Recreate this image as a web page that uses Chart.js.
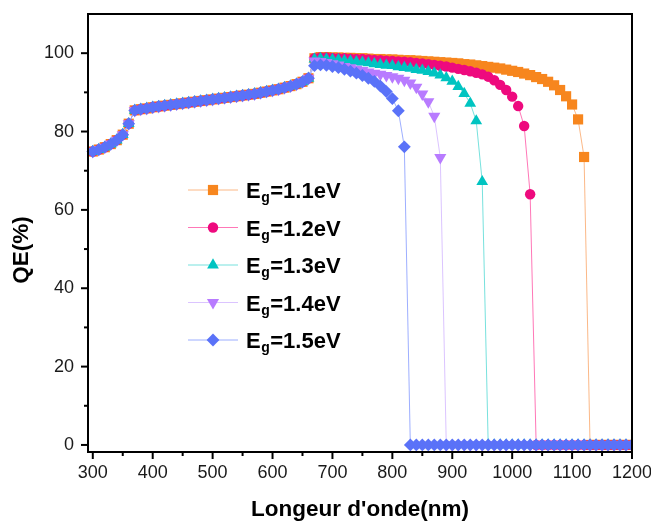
<!DOCTYPE html>
<html>
<head>
<meta charset="utf-8">
<script src="https://cdn.jsdelivr.net/npm/chart.js@4/dist/chart.umd.min.js"></script>
<style>
  html, body { margin: 0; padding: 0; background: #ffffff; }
  #wrap { width: 651px; height: 523px; position: relative; }
</style>
</head>
<body>
<div id="wrap"><canvas id="qe"></canvas></div>
<script>
// Wavelength grid (nm)
const wavelengths = [
  300, 310, 320, 330, 340, 350, 360, 370, 380, 390,
  400, 410, 420, 430, 440, 450, 460, 470, 480, 490,
  500, 510, 520, 530, 540, 550, 560, 570, 580, 590,
  600, 610, 620, 630, 640, 650, 660, 670, 680, 690,
  700, 710, 720, 730, 740, 750, 760, 770, 780, 790,
  800, 810, 820, 830, 840, 850, 860, 870, 880, 890,
  900, 910, 920, 930, 940, 950, 960, 970, 980, 990,
  1000, 1010, 1020, 1030, 1040, 1050, 1060, 1070, 1080, 1090,
  1100, 1110, 1120, 1130, 1140, 1150, 1160, 1170, 1180, 1190,
  1200
];

// QE (%) shared by every band gap from 300 to 660 nm
const sharedQE = [
  74.9, 75.4, 76.0, 76.8, 77.8, 79.2, 82.0,
  85.4, 85.7, 85.9, 86.2, 86.4, 86.6, 86.8, 87.0, 87.2, 87.4,
  87.6, 87.8, 88.0, 88.2, 88.4, 88.6, 88.8, 89.0, 89.2, 89.4,
  89.6, 89.9, 90.2, 90.5, 90.8, 91.2, 91.6, 92.1, 92.7, 93.6
];

// QE (%) from 670 to 1200 nm, one list per band gap
const qeEg11 = [
  98.7, 99.0, 99.0, 98.9, 98.9, 98.8, 98.8, 98.7, 98.7, 98.6,
  98.5, 98.5, 98.4, 98.4, 98.3, 98.2, 98.2, 98.1, 98.0, 97.9,
  97.8, 97.7, 97.6, 97.5, 97.4, 97.2, 97.1, 96.9, 96.7, 96.5,
  96.3, 96.1, 95.8, 95.5, 95.2, 94.8, 94.4, 93.9, 93.4, 92.7,
  91.8, 90.6, 89.0, 86.9, 83.1, 73.5,
  0, 0, 0, 0, 0, 0, 0, 0
];
const qeEg12 = [
  98.7, 98.9, 98.9, 98.8, 98.7, 98.7, 98.6, 98.5, 98.5, 98.4,
  98.3, 98.2, 98.1, 98.0, 97.9, 97.8, 97.7, 97.5, 97.4, 97.2,
  97.0, 96.8, 96.6, 96.3, 96.0, 95.7, 95.4, 95.0, 94.6, 94.0,
  93.1, 91.9, 90.6, 88.9, 86.5, 81.4, 64.0,
  0, 0, 0, 0, 0, 0, 0, 0, 0, 0,
  0, 0, 0, 0, 0, 0, 0
];
const qeEg13 = [
  98.5, 98.6, 98.5, 98.4, 98.3, 98.1, 98.0, 97.8, 97.7, 97.5,
  97.3, 97.1, 96.9, 96.8, 96.5, 96.3, 96.1, 95.8, 95.6, 95.3,
  94.9, 94.4, 93.7, 92.8, 91.5, 89.7, 87.2, 82.7, 67.2,
  0, 0, 0, 0, 0, 0, 0, 0, 0, 0,
  0, 0, 0, 0, 0, 0, 0, 0, 0, 0,
  0, 0, 0, 0, 0
];
const qeEg14 = [
  98.0, 97.9, 97.6, 97.3, 97.0, 96.6, 96.3, 95.9, 95.6, 95.2,
  94.9, 94.6, 94.3, 94.0, 93.6, 93.1, 92.4, 91.3, 89.6, 87.6,
  83.9, 73.4,
  0, 0, 0, 0, 0, 0, 0, 0, 0, 0,
  0, 0, 0, 0, 0, 0, 0, 0, 0, 0,
  0, 0, 0, 0, 0, 0, 0, 0, 0, 0,
  0, 0
];
const qeEg15 = [
  96.8, 97.0, 96.9, 96.6, 96.3, 95.9, 95.4, 94.9, 94.3, 93.6,
  92.8, 91.6, 90.2, 88.4, 85.3, 76.1,
  0, 0, 0, 0, 0, 0, 0, 0, 0, 0,
  0, 0, 0, 0, 0, 0, 0, 0, 0, 0,
  0, 0, 0, 0, 0, 0, 0, 0, 0, 0,
  0, 0, 0, 0, 0, 0, 0, 0
];

const bandGaps = ['1.1', '1.2', '1.3', '1.4', '1.5'];
const seriesTails = [qeEg11, qeEg12, qeEg13, qeEg14, qeEg15];

// Axis ticks
const xMajorTicks = [300, 400, 500, 600, 700, 800, 900, 1000, 1100, 1200];
const xMinorTicks = [350, 450, 550, 650, 750, 850, 950, 1050, 1150];
const yMajorTicks = [0, 20, 40, 60, 80, 100];
const yMinorTicks = [10, 30, 50, 70, 90];

const FONT = '"Liberation Sans", Arial, Helvetica, sans-serif';

const seriesStyle = [
  { mark: '#F7861E', line: 'rgba(250,160,95,0.75)',  pointStyle: 'rect',     radius: 7.2, rotation: 0 },
  { mark: '#EE0A7E', line: 'rgba(255,95,170,0.85)',  pointStyle: 'circle',   radius: 5.2, rotation: 0 },
  { mark: '#00C4C1', line: 'rgba(95,220,215,0.85)',  pointStyle: 'triangle', radius: 6.8, rotation: 0 },
  { mark: '#B87BFF', line: 'rgba(215,190,255,0.9)',  pointStyle: 'triangle', radius: 7.0, rotation: 180 },
  { mark: '#5A72F8', line: 'rgba(140,160,255,0.85)', pointStyle: 'rectRot',  radius: 6.4, rotation: 0 }
];

const datasets = seriesTails.map((tail, i) => {
  const qe = sharedQE.concat(tail);
  const s = seriesStyle[i];
  return {
    label: 'Eg=' + bandGaps[i] + 'eV',
    data: wavelengths.map((w, k) => ({ x: w, y: qe[k] })),
    borderColor: s.line,
    borderWidth: 1,
    backgroundColor: s.mark,
    pointBackgroundColor: s.mark,
    pointBorderColor: s.mark,
    pointBorderWidth: 0,
    pointRadius: s.radius,
    pointHoverRadius: s.radius,
    pointStyle: s.pointStyle,
    pointRotation: s.rotation,
    tension: 0,
    order: seriesStyle.length - i,
    clip: { left: 6, top: 0, right: 0, bottom: 8 }
  };
});

// Frame, outward tick marks, y title and the subscripted legend
const framePlugin = {
  id: 'frameTicks',
  afterDatasetsDraw(chart) {
    const { ctx, chartArea: a, scales } = chart;
    const xs = scales.x, ys = scales.y;
    ctx.save();
    ctx.strokeStyle = '#000';
    ctx.lineWidth = 2;
    ctx.lineCap = 'square';
    ctx.strokeRect(a.left, a.top, a.right - a.left, a.bottom - a.top);
    ctx.lineCap = 'butt';
    const tick = (x1, y1, x2, y2) => { ctx.beginPath(); ctx.moveTo(x1, y1); ctx.lineTo(x2, y2); ctx.stroke(); };
    xMajorTicks.forEach(v => { const p = xs.getPixelForValue(v); tick(p, a.bottom, p, a.bottom + 7); });
    xMinorTicks.forEach(v => { const p = xs.getPixelForValue(v); tick(p, a.bottom, p, a.bottom + 4); });
    yMajorTicks.forEach(v => { const p = ys.getPixelForValue(v); tick(a.left, p, a.left - 7, p); });
    yMinorTicks.forEach(v => { const p = ys.getPixelForValue(v); tick(a.left, p, a.left - 4, p); });
    ctx.restore();
  },
  afterDraw(chart) {
    const ctx = chart.ctx;
    ctx.save();
    // y axis title
    ctx.translate(22, 250);
    ctx.rotate(-Math.PI / 2);
    ctx.fillStyle = '#000';
    ctx.textAlign = 'center';
    ctx.textBaseline = 'middle';
    ctx.font = 'bold 22.5px ' + FONT;
    ctx.fillText('QE(%)', 0, 0);
    ctx.restore();

    const x0 = 188, x1 = 238, xm = 213, xt = 246, y0 = 190, dy = 37.5;
    ctx.save();
    chart.data.datasets.forEach((ds, i) => {
      const s = seriesStyle[i];
      const y = y0 + i * dy;
      ctx.strokeStyle = s.line;
      ctx.lineWidth = 1;
      ctx.beginPath(); ctx.moveTo(x0, y); ctx.lineTo(x1, y); ctx.stroke();
      ctx.fillStyle = s.mark;
      if (Chart.helpers && Chart.helpers.drawPoint) {
        Chart.helpers.drawPoint(ctx, { pointStyle: s.pointStyle, radius: s.radius, rotation: s.rotation, borderWidth: 0 }, xm, y);
      }
      ctx.fillStyle = '#000';
      ctx.textBaseline = 'alphabetic';
      ctx.textAlign = 'left';
      ctx.font = 'bold 22px ' + FONT;
      ctx.fillText('E', xt, y + 8);
      let x = xt + ctx.measureText('E').width + 0.5;
      ctx.font = 'bold 14px ' + FONT;
      ctx.fillText('g', x, y + 12);
      x += ctx.measureText('g').width + 0.5;
      ctx.font = 'bold 22px ' + FONT;
      ctx.fillText('=' + bandGaps[i] + 'eV', x, y + 8);
    });
    ctx.restore();
  }
};

new Chart(document.getElementById('qe'), {
  type: 'line',
  data: { datasets },
  options: {
    responsive: true,
    maintainAspectRatio: false,
    animation: false,
    devicePixelRatio: 1,
    layout: { padding: { top: 14, right: 19, left: 0, bottom: 0 } },
    plugins: { legend: { display: false }, tooltip: { enabled: false } },
    scales: {
      x: {
        type: 'linear',
        position: 'bottom',
        min: 292,
        max: 1200,
        grid: { display: false, drawTicks: false },
        border: { display: false },
        afterBuildTicks: s => { s.ticks = xMajorTicks.map(v => ({ value: v })); },
        afterFit: s => { s.height = 71; s.paddingLeft = 0; s.paddingRight = 0; },
        ticks: {
          autoSkip: false, maxRotation: 0, padding: 10, color: '#1a1a1a',
          font: { family: FONT, size: 18 },
          callback: v => String(v)
        },
        title: {
          display: true, text: "Longeur d'onde(nm)", color: '#000',
          font: { family: FONT, size: 22.5, weight: 'bold' },
          padding: { top: 4, bottom: 0 }
        }
      },
      y: {
        type: 'linear',
        min: -1.8,
        max: 110,
        grid: { display: false, drawTicks: false },
        border: { display: false },
        afterBuildTicks: s => { s.ticks = yMajorTicks.map(v => ({ value: v })); },
        afterFit: s => { s.width = 88; s.paddingTop = 0; s.paddingBottom = 0; },
        ticks: {
          padding: 14, color: '#1a1a1a',
          font: { family: FONT, size: 18 },
          callback: v => String(v)
        }
      }
    }
  },
  plugins: [framePlugin]
});
</script>
</body>
</html>
